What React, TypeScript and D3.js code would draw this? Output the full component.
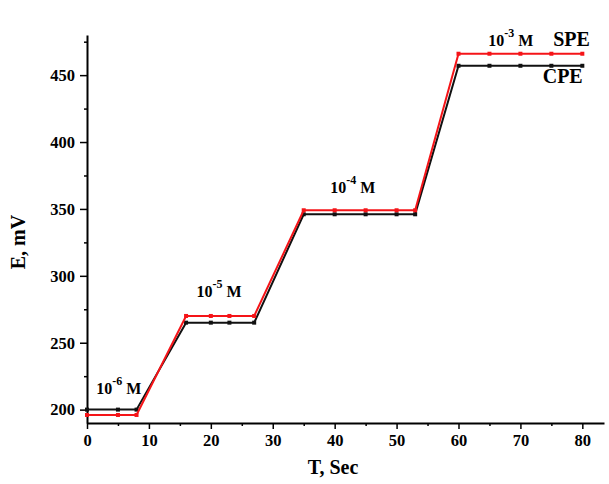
import React, { useEffect, useRef } from 'react';
import * as d3 from 'd3';

// time points (s) shared by both electrodes
const times = [0, 5, 8, 16, 20, 23, 27, 35, 40, 45, 50, 53, 60, 65, 70, 75, 80];
// potentials (mV)
const cpe = [200, 200, 200, 265, 265, 265, 265, 346, 346, 346, 346, 346, 457, 457, 457, 457, 457];
const spe = [196, 196, 196, 270, 270, 270, 270, 349, 349, 349, 349, 349, 466, 466, 466, 466, 466];

const xTicks = [0, 10, 20, 30, 40, 50, 60, 70, 80];
const yTicks = [200, 250, 300, 350, 400, 450];

// concentration notes: exponent, anchor in data units
const notes = [
  { exp: '-6', x: 1.5, y: 212 },
  { exp: '-5', x: 17.7, y: 284 },
  { exp: '-4', x: 39.3, y: 362 },
  { exp: '-3', x: 64.8, y: 471.5 },
];

const FONT = '"Liberation Serif", "Times New Roman", serif';

const App = () => {
  const svgRef = useRef(null);

  useEffect(() => {
    const svg = d3.select(svgRef.current);
    svg.selectAll('*').remove();

    const x = d3.scaleLinear().domain([0, 83.5]).range([87, 604]);
    const y = d3.scaleLinear().domain([190, 480]).range([423, 35]);

    // minor ticks first so the major ones sit over them
    svg.append('g')
      .attr('transform', 'translate(0,423)')
      .call(d3.axisBottom(x).tickValues(d3.range(5, 84, 10)).tickSize(3).tickFormat(() => ''))
      .call(g => g.select('.domain').remove());
    svg.append('g')
      .attr('transform', 'translate(87,0)')
      .call(d3.axisLeft(y).tickValues(d3.range(225, 480, 50)).tickSize(3).tickFormat(() => ''))
      .call(g => g.select('.domain').remove());

    const xAxis = svg.append('g')
      .attr('transform', 'translate(0,423)')
      .call(d3.axisBottom(x).tickValues(xTicks).tickSize(6).tickSizeOuter(0).tickPadding(5));
    const yAxis = svg.append('g')
      .attr('transform', 'translate(87,0)')
      .call(d3.axisLeft(y).tickValues(yTicks).tickSize(7).tickSizeOuter(0).tickPadding(5));

    [xAxis, yAxis].forEach(ax => {
      ax.select('.domain').attr('stroke-width', 2);
      ax.selectAll('.tick text')
        .attr('font-family', FONT)
        .attr('font-weight', 'bold')
        .attr('font-size', 16.5)
        .attr('fill', '#000');
    });
    svg.selectAll('g line').attr('stroke-width', 1.5);

    const line = d3.line().x(d => x(d[0])).y(d => y(d[1]));

    const series = [
      { vals: cpe, color: '#111' },
      { vals: spe, color: '#f51418' },
    ];
    series.forEach(s => {
      const pts = times.map((t, i) => [t, s.vals[i]]);
      svg.append('path')
        .datum(pts)
        .attr('d', line)
        .attr('fill', 'none')
        .attr('stroke', s.color)
        .attr('stroke-width', 2);
      svg.append('g')
        .selectAll('rect')
        .data(pts)
        .enter()
        .append('rect')
        .attr('x', d => x(d[0]) - 2)
        .attr('y', d => y(d[1]) - 2)
        .attr('width', 4)
        .attr('height', 4)
        .attr('fill', s.color);
    });

    const txt = svg.append('g')
      .attr('font-family', FONT)
      .attr('font-weight', 'bold')
      .attr('fill', '#000');

    notes.forEach(n => {
      const t = txt.append('text')
        .attr('x', x(n.x))
        .attr('y', y(n.y))
        .attr('font-size', 16);
      t.append('tspan').text('10');
      t.append('tspan').attr('dy', -9).attr('font-size', 12).text(n.exp);
      t.append('tspan').attr('dy', 9).attr('dx', 4).text('M');
    });

    txt.append('text')
      .attr('x', x(75.3)).attr('y', y(471.5))
      .attr('font-size', 20)
      .text('SPE');
    txt.append('text')
      .attr('x', x(73.6)).attr('y', y(444))
      .attr('font-size', 20)
      .text('CPE');

    txt.append('text')
      .attr('x', 333).attr('y', 474)
      .attr('text-anchor', 'middle')
      .attr('font-size', 20)
      .text('T, Sec');
    txt.append('text')
      .attr('transform', 'translate(25,242) rotate(-90)')
      .attr('text-anchor', 'middle')
      .attr('font-size', 20)
      .text('E, mV');
  }, []);

  return (
    <svg
      ref={svgRef}
      width={609}
      height={484}
      style={{ position: 'absolute', left: 0, top: 0, background: '#fff' }}
    />
  );
};

export default App;
